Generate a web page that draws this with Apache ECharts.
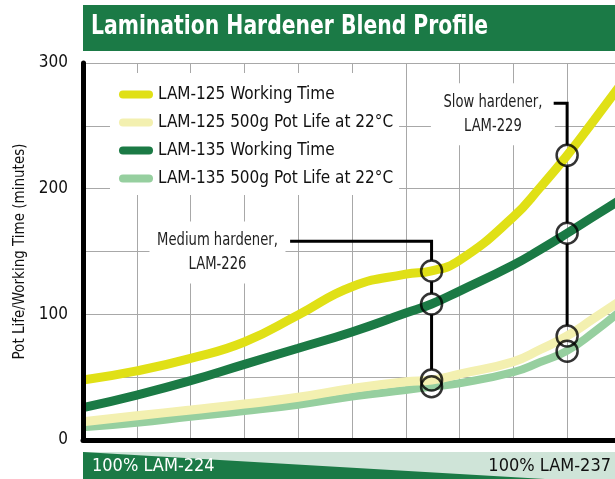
<!DOCTYPE html>
<html>
<head>
<meta charset="utf-8">
<script src="https://cdn.jsdelivr.net/npm/echarts@6/dist/echarts.min.js"></script>
<style>
html, body { margin: 0; padding: 0; background: #fff; }
#chart { width: 615px; height: 479px; }
</style>
</head>
<body>
<div id="chart"></div>
<script>
// blend position in % towards LAM-237 (0 = 100% LAM-224); the chart is cut off just before 100
var blend = [0, 10, 20, 30, 40, 50, 60, 64.8, 70, 80, 85, 90, 95, 100];
var lam125Work = [47.7, 55, 65, 78, 99.5, 122, 132, 134.5, 143, 177.5, 201, 226.5, 254.5, 283];
var lam125Pot = [14.6, 19.3, 23.9, 28.6, 34, 41, 46.4, 47.7, 52.5, 62.3, 72, 82.8, 96.8, 111];
var lam135Work = [25.7, 35.8, 47.2, 60.2, 73, 86, 101, 108.2, 118.5, 139.3, 151.5, 164.5, 178, 191.5];
var lam135Pot = [10.1, 13.8, 18.5, 23, 28.1, 34.5, 39.8, 42.4, 45.2, 54, 62, 71, 86, 103];
var seriesNames = ['LAM-125 Working Time', 'LAM-125 500g Pot Life at 22°C',
                   'LAM-135 Working Time', 'LAM-135 500g Pot Life at 22°C'];
var yLabels = [0, 100, 200, 300];

// circled points: medium hardener LAM-226, slow hardener LAM-229
var markX = [64.8, 90];
var markValues = [[134.5, 108.2, 47.7, 42.4], [226.5, 164.5, 82.8, 70.6]];
var markLabels = [['Medium hardener,', 'LAM-226'], ['Slow hardener,', 'LAM-229']];
var labelAnchor = [[25, 149.2], [76.2, 259.2]];
var leaderTop = [158.2, 268];
var leaderLeft = [38.5, 87.5];

var narrow = "'DejaVu Sans Condensed', 'Liberation Sans Narrow', sans-serif";

function pairs(ys) {
    return blend.map(function (x, i) { return [x, ys[i]]; });
}

var circles = [];
markX.forEach(function (x, i) {
    markValues[i].forEach(function (v) { circles.push([x, v]); });
});

function renderMarks(params, api) {
    var i = params.dataIndex;
    var r = 10.5;
    var pts = markValues[i].map(function (v) { return api.coord([markX[i], v]); });
    var top = api.coord([markX[i], leaderTop[i]]);
    var left = api.coord([leaderLeft[i], leaderTop[i]]);
    var lab = api.coord(labelAnchor[i]);
    var boxW = i === 0 ? 136 : 124;
    var stroke = { stroke: '#000', lineWidth: 3, fill: null };
    var children = [
        { type: 'rect', shape: { x: lab[0] - boxW / 2, y: lab[1] - 31, width: boxW, height: 62 }, style: { fill: '#fff' } },
        { type: 'text', x: lab[0], y: lab[1], scaleX: 0.86,
          style: { x: 0, y: 0, text: markLabels[i].join('\n'), align: 'center', verticalAlign: 'middle',
            fontSize: 17, lineHeight: 24, fontFamily: narrow, fill: '#222' } },
        { type: 'polyline', shape: { points: [left, top, [top[0], pts[0][1] - r]] }, style: stroke }
    ];
    for (var k = 0; k < pts.length - 1; k++) {
        var y0 = pts[k][1] + r, y1 = pts[k + 1][1] - r;
        if (y1 > y0) {
            children.push({ type: 'line', shape: { x1: pts[k][0], y1: y0, x2: pts[k][0], y2: y1 }, style: stroke });
        }
    }
    return { type: 'group', children: children };
}

var chart = echarts.init(document.getElementById('chart'));
var option = {
    animation: false,
    grid: { left: 83, right: 0, top: 63, bottom: 39 },
    legend: {
        data: seriesNames,
        orient: 'vertical',
        left: 110,
        top: 73,
        padding: [13, 6, 8, 9],
        itemGap: 11,
        itemWidth: 34,
        itemHeight: 8,
        icon: 'path://M4,0H30A4,4,0,0,1,30,8H4A4,4,0,0,1,4,0Z',
        backgroundColor: '#fff',
        textStyle: { fontSize: 17, fontFamily: narrow, color: '#111' }
    },
    xAxis: [{
        type: 'value', min: 0, max: 98.9, interval: 10,
        axisLine: { show: false }, axisTick: { show: false }, axisLabel: { show: false },
        splitLine: { lineStyle: { color: '#a8a8a8', width: 1 } }
    }, {
        type: 'value', min: 0, max: 98.9, position: 'bottom', z: 6,
        axisLine: { lineStyle: { color: '#000', width: 5 } },
        axisTick: { show: false }, axisLabel: { show: false }, splitLine: { show: false }
    }],
    yAxis: [{
        type: 'value', min: 0, max: 300, interval: 50,
        name: 'Pot Life/Working Time (minutes)',
        nameLocation: 'middle', nameGap: 51,
        nameTextStyle: { fontSize: 15, fontFamily: narrow, color: '#111' },
        axisLine: { show: false }, axisTick: { show: false },
        axisLabel: {
            margin: 15, fontSize: 17, fontFamily: narrow, color: '#111', padding: [0, 0, 8, 0],
            formatter: function (v) { return yLabels.indexOf(v) >= 0 ? String(v) : ''; }
        },
        splitLine: { lineStyle: { color: '#a8a8a8', width: 1 } }
    }, {
        type: 'value', min: 0, max: 300, position: 'left', z: 6,
        axisLine: { show: true, lineStyle: { color: '#000', width: 5 } },
        axisTick: { show: false }, axisLabel: { show: false }, splitLine: { show: false }
    }],
    series: [
        { name: seriesNames[3], type: 'line', data: pairs(lam135Pot), smooth: 0.5, showSymbol: false,
          color: '#96cf9f', lineStyle: { width: 8, color: '#96cf9f' } },
        { name: seriesNames[1], type: 'line', data: pairs(lam125Pot), smooth: 0.5, showSymbol: false,
          color: '#f3f0b0', lineStyle: { width: 9, color: '#f3f0b0' } },
        { name: seriesNames[2], type: 'line', data: pairs(lam135Work), smooth: 0.5, showSymbol: false,
          color: '#1b7a45', lineStyle: { width: 9, color: '#1b7a45' } },
        { name: seriesNames[0], type: 'line', data: pairs(lam125Work), smooth: 0.5, showSymbol: false,
          color: '#e0e016', lineStyle: { width: 9, color: '#e0e016' } },
        { type: 'custom', z: 5, renderItem: renderMarks, encode: { x: 0, y: 1 },
          data: markX.map(function (x, i) { return [x, leaderTop[i]]; }) },
        { type: 'scatter', z: 7, data: circles, symbol: 'circle', symbolSize: 21, silent: true,
          itemStyle: { color: 'rgba(0,0,0,0)', borderColor: '#000', borderWidth: 2.5 } }
    ],
    graphic: [
        { type: 'rect', left: 83, top: 5, shape: { width: 532, height: 46 }, style: { fill: '#1b7a46' } },
        { type: 'text', x: 91, y: 27.5, scaleX: 0.87,
          style: { x: 0, y: 0, text: 'Lamination Hardener Blend Profile', fill: '#fff', verticalAlign: 'middle',
            fontSize: 26, fontWeight: 'bold', fontFamily: narrow } },
        { type: 'rect', left: 83, top: 452, shape: { width: 532, height: 27 }, style: { fill: '#cfe4d8' } },
        { type: 'polygon', shape: { points: [[83, 452], [545, 479], [83, 479]] }, style: { fill: '#1b7a46' } },
        { type: 'text', left: 92, top: 457, style: { text: '100% LAM-224', fill: '#fff', fontSize: 18, fontFamily: narrow } },
        { type: 'text', right: 4, top: 457, style: { text: '100% LAM-237', fill: '#111', fontSize: 18, fontFamily: narrow } }
    ]
};
chart.setOption(option);
</script>
</body>
</html>
